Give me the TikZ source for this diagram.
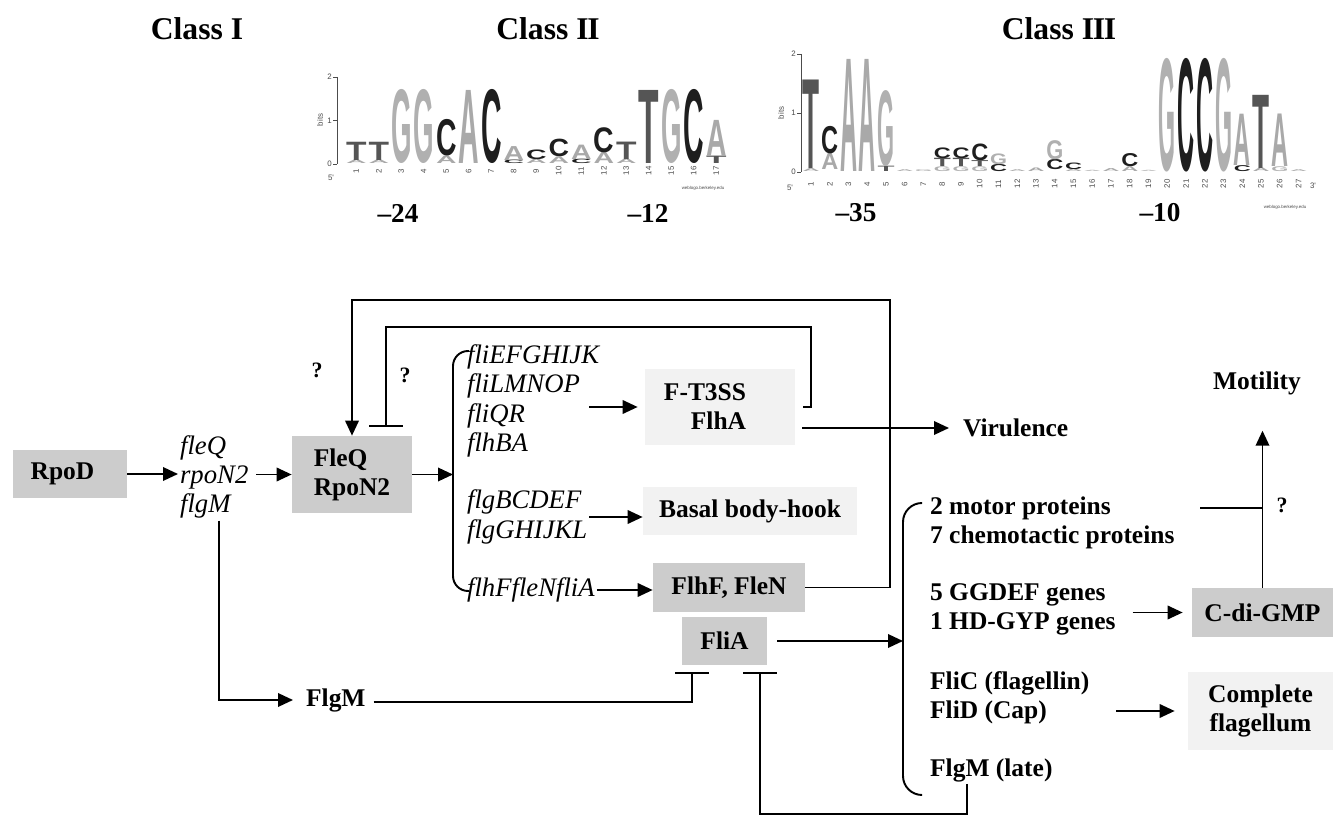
\documentclass[tikz,border=0pt]{standalone}
\usepackage{fontspec}
\setmainfont{Liberation Serif}
\newfontfamily\logofont{Liberation Sans}
\usepackage{graphicx}
\usetikzlibrary{arrows.meta}
\definecolor{boxgray}{HTML}{CCCCCC}
\definecolor{boxlight}{HTML}{F2F2F2}
\definecolor{baseA}{HTML}{A9A9A9}
\definecolor{baseG}{HTML}{B0B0B0}
\definecolor{baseC}{HTML}{1E1E1E}
\definecolor{baseT}{HTML}{555555}
\newlength\pxu
\setlength\pxu{0.02cm}

\begin{document}
\begin{tikzpicture}[x=0.02cm, y=-0.02cm,
    box/.style={fill=boxgray, inner sep=0pt, font=\fontsize{14.5}{16.5}\selectfont\bfseries, align=left},
    lightbox/.style={box, fill=boxlight},
    lbl/.style={font=\fontsize{14.5}{16.5}\selectfont\bfseries, align=left, inner sep=1pt},
    genes/.style={font=\fontsize{15.2}{16.7}\selectfont\itshape, align=left, inner sep=1pt},
    title/.style={font=\fontsize{18}{20}\selectfont\bfseries},
    posnum/.style={font=\fontsize{15.5}{17}\selectfont\bfseries},
    qmark/.style={font=\fontsize{12.5}{14}\selectfont\bfseries, inner sep=0pt},
    logotxt/.style={font=\fontsize{4.5}{5}\selectfont\logofont, inner sep=0pt, text=black!70},
    conn/.style={line width=1.1pt},
    arrow/.style={conn, -{Triangle[length=0.3cm, width=0.27cm]}},
    inhib/.style={conn, -{Bar[width=0.68cm]}}
]
\fill[white] (0,0) rectangle (1333,817);
\useasboundingbox (0,0) rectangle (1333,817);

% promoter classes
\node[title] (classI) at (197,29) {Class I};
\node[title] (classII) at (548,29) {Class I\kern-.04em I};
\node[title] (classIII) at (1059,29) {Class I\kern-.04em I\kern-.04em I};

% class II logo
\draw[black!70, line width=0.4pt] (337,77) -- (337,164);
\foreach \b in {0,1,2} {
  \draw[black!70, line width=0.4pt] (333,{164-43.5*\b}) -- (337,{164-43.5*\b});
  \node[logotxt, anchor=east] (tkII\b) at (332,{164-43.5*\b}) {\b};
}
\node[logotxt, rotate=90] (bitsII) at (320,120) {bits};
\node[logotxt] (fiveII) at (331,178) {5'};
\node[logotxt, font=\fontsize{2.5}{3}\selectfont\logofont] (wlII) at (703,188) {weblogo.berkeley.edu};
\foreach \p/\lo/\hi/\ch in {1/0/0.08/A, 1/0.08/0.5/T, 2/0/0.08/A, 2/0.08/0.5/T,
    3/0/1.68/G, 4/0/1.68/G, 5/0/0.17/A, 5/0.17/1.0/C, 6/0/1.68/A, 7/0/1.68/C,
    8/0/0.08/C, 8/0.08/0.4/A, 9/0/0.1/A, 9/0.1/0.32/C, 10/0/0.15/A, 10/0.15/0.55/C,
    11/0/0.1/C, 11/0.1/0.43/A, 12/0/0.25/A, 12/0.25/0.82/C, 13/0/0.1/A, 13/0.1/0.5/T,
    14/0/1.68/T, 15/0/1.68/G, 16/0/1.68/C, 17/0/0.17/T, 17/0.17/1.0/A} {
  \pgfmathsetmacro\xc{345+22.5*(\p-0.5)}
  \pgfmathsetmacro\yb{164-43.5*\lo}
  \pgfmathsetmacro\hh{43.5*(\hi-\lo)}
  \node[anchor=south, inner sep=0pt, text=base\ch] (cII-\p-\ch) at (\xc,\yb)
    {\resizebox{20.5\pxu}{\hh\pxu}{\logofont\bfseries\ch}};
}
\foreach \p in {1,...,17} {
  \pgfmathsetmacro\xc{345+22.5*(\p-0.5)}
  \node[logotxt, rotate=90] (nII\p) at (\xc,171) {\p};
}
\node[posnum] (m24) at (398,213) {--24};
\node[posnum] (m12) at (648,213) {--12};

% class III logo
\draw[black!70, line width=0.4pt] (801,54) -- (801,172);
\foreach \b in {0,1,2} {
  \draw[black!70, line width=0.4pt] (797,{172-59*\b}) -- (801,{172-59*\b});
  \node[logotxt, anchor=east] (tkIII\b) at (796,{172-59*\b}) {\b};
}
\node[logotxt, rotate=90] (bitsIII) at (781,113) {bits};
\node[logotxt] (fiveIII) at (790,188) {5'};
\node[logotxt] (threeIII) at (1313,186) {3'};
\node[logotxt, font=\fontsize{2.5}{3}\selectfont\logofont] (wlIII) at (1285,207) {weblogo.berkeley.edu};
\foreach \p/\lo/\hi/\ch in {1/0/0.05/A, 1/0.05/1.55/T, 2/0.03/0.3/A, 2/0.3/0.76/C,
    3/0/1.9/A, 4/0/1.9/A, 5/0/0.09/T, 5/0.09/1.36/G, 6/0/0.03/A, 7/0/0.03/G,
    8/0/0.08/G, 8/0.08/0.22/T, 8/0.22/0.4/C, 9/0/0.08/G, 9/0.08/0.22/T, 9/0.22/0.4/C,
    10/0/0.08/G, 10/0.08/0.18/T, 10/0.18/0.46/C, 11/0/0.12/C, 11/0.12/0.3/G,
    12/0/0.03/A, 13/0/0.06/A, 14/0.03/0.2/C, 14/0.2/0.52/G, 15/0/0.04/A, 15/0.04/0.15/C,
    16/0/0.02/A, 17/0/0.05/A, 18/0/0.08/A, 18/0.08/0.3/C, 19/0/0.02/A,
    20/0/1.9/G, 21/0/1.9/C, 22/0/1.9/C, 23/0/1.9/G, 24/0/0.1/C, 24/0.1/0.97/A,
    25/0/0.06/A, 25/0.06/1.3/T, 26/0/0.08/G, 26/0.08/0.97/A, 27/0/0.03/A} {
  \pgfmathsetmacro\xc{811+18.75*(\p-1)}
  \pgfmathsetmacro\yb{172-59*\lo}
  \pgfmathsetmacro\hh{59*(\hi-\lo)}
  \node[anchor=south, inner sep=0pt, text=base\ch] (cIII-\p-\ch) at (\xc,\yb)
    {\resizebox{17\pxu}{\hh\pxu}{\logofont\bfseries\ch}};
}
\foreach \p in {1,...,27} {
  \pgfmathsetmacro\xc{811+18.75*(\p-1)}
  \node[logotxt, rotate=90] (nIII\p) at (\xc,184) {\p};
}
\node[posnum] (m35) at (856,213) {--35};
\node[posnum] (m10) at (1160,213) {--10};

% regulators and gene groups
\node[box, minimum width=2.28cm, minimum height=0.96cm] (rpod) at (70,474) {RpoD\hspace*{0.3cm}};
\node[genes, anchor=west] (early) at (178,477) {fleQ\\rpoN2\\flgM};
\node[box, minimum width=2.4cm, minimum height=1.54cm] (fleq) at (352,474.5) {FleQ\\RpoN2};
\node[qmark] (q1) at (317,370) {?};
\node[qmark] (q2) at (405,375) {?};
\node[genes, anchor=west] (midg) at (465,401) {fliEFGHIJK\\fliLMNOP\\fliQR\\flhBA};
\node[genes, anchor=west] (midg2) at (465,517) {flgBCDEF\\flgGHIJKL};
\node[genes, anchor=west] (lateg) at (465,590) {flhFfleNfliA};
\node[lightbox, minimum width=3cm, minimum height=1.52cm, align=right] (ft3ss) at (720,407) {F-T3SS\hspace*{0.6cm}\\FlhA\hspace*{0.6cm}};
\node[lightbox, minimum width=4.28cm, minimum height=0.96cm] (basal) at (750,511) {Basal body-hook};
\node[box, minimum width=3.04cm, minimum height=0.98cm] (flhf) at (729,587.5) {FlhF, FleN};
\node[box, minimum width=1.7cm, minimum height=0.96cm] (flia) at (724.5,641) {FliA};
\node[lbl, anchor=west] (flgm) at (304,700) {FlgM};
\node[lbl, anchor=west] (virulence) at (961,428) {Virulence};
\node[lbl, anchor=west] (motor) at (928,522.5) {2 motor proteins\\7 chemotactic proteins};
\node[lbl, anchor=west] (ggdef) at (928,609) {5 GGDEF genes\\1 HD-GYP genes};
\node[lbl, anchor=west] (flic) at (928,697.5) {FliC (flagellin)\\FliD (Cap)};
\node[lbl, anchor=west] (flgml) at (928,770) {FlgM (late)};
\node[box, minimum width=2.82cm, minimum height=0.98cm, align=center] (cdigmp) at (1262.5,612.5) {C-di-GMP};
\node[lightbox, minimum width=2.9cm, minimum height=1.56cm, align=center] (complete) at (1260.5,711) {Complete\\flagellum};
\node[lbl] (motility) at (1257,383) {Motility};
\node[qmark] (q3) at (1282,505) {?};

% brackets
\coordinate (lbr) at (453,474.5);
\coordinate (rbr) at (903,641);
\draw[conn, rounded corners=0.3cm] (469,351) -- (453,351) -- (453,591) -- (469,591);
\draw[conn, rounded corners=0.38cm] (922,503) -- (903,503) -- (903,795) -- (922,795);

% activation
\draw[arrow] (rpod.east) -- (rpod.east -| early.west);
\draw[arrow] (early.east |- fleq.west) ++(6,0) -- (fleq.west);
\draw[arrow] (fleq.east) -- (lbr);
\draw[arrow, shorten >=0.14cm] (midg.east |- ft3ss.west) ++(-12,0) -- (ft3ss.west);
\draw[arrow] (midg2.east) -- (midg2.east -| basal.west);
\draw[arrow] (lateg.east) -- (lateg.east -| flhf.west);
\draw[arrow, shorten >=0.22cm] (early.south) ++(5,0) |- (flgm.west);
\draw[arrow, shorten >=0.24cm] (ft3ss.east |- virulence.west) ++(7,0) -- (virulence.west);
\draw[arrow] (flia.east) ++(10,0) -- (rbr);
\draw[arrow, shorten >=0.18cm] (ggdef.east |- cdigmp.west) ++(15,0) -- (cdigmp.west);
\draw[arrow, shorten >=0.26cm] (flic.east |- complete.west) ++(25,0) -- (complete.west);
\draw[arrow, shorten >=0.68cm] (cdigmp.north) -- (cdigmp.north |- motility.south);
\coordinate (motjoin) at (1200,508);
\draw[conn] (motjoin) -- (motjoin -| cdigmp.north);

% feedback loops
\coordinate (loopA) at (890,300);
\coordinate (loopB) at (811,327);
\draw[arrow] (flhf.east) -| (loopA) -| (fleq.north);
\draw[inhib, shorten >=0.18cm] (ft3ss.east) ++(8,0) -| (loopB) -| ([xshift=0.68cm]fleq.north);

% FlgM inhibition of FliA
\coordinate (latebot) at (967,814);
\draw[inhib, shorten >=0.14cm] (flgm.east) ++(6,2) -| ([xshift=-0.65cm]flia.south);
\draw[inhib, shorten >=0.14cm] (flgml.south -| latebot) -- (latebot) -| ([xshift=0.71cm]flia.south);

\end{tikzpicture}
\end{document}
